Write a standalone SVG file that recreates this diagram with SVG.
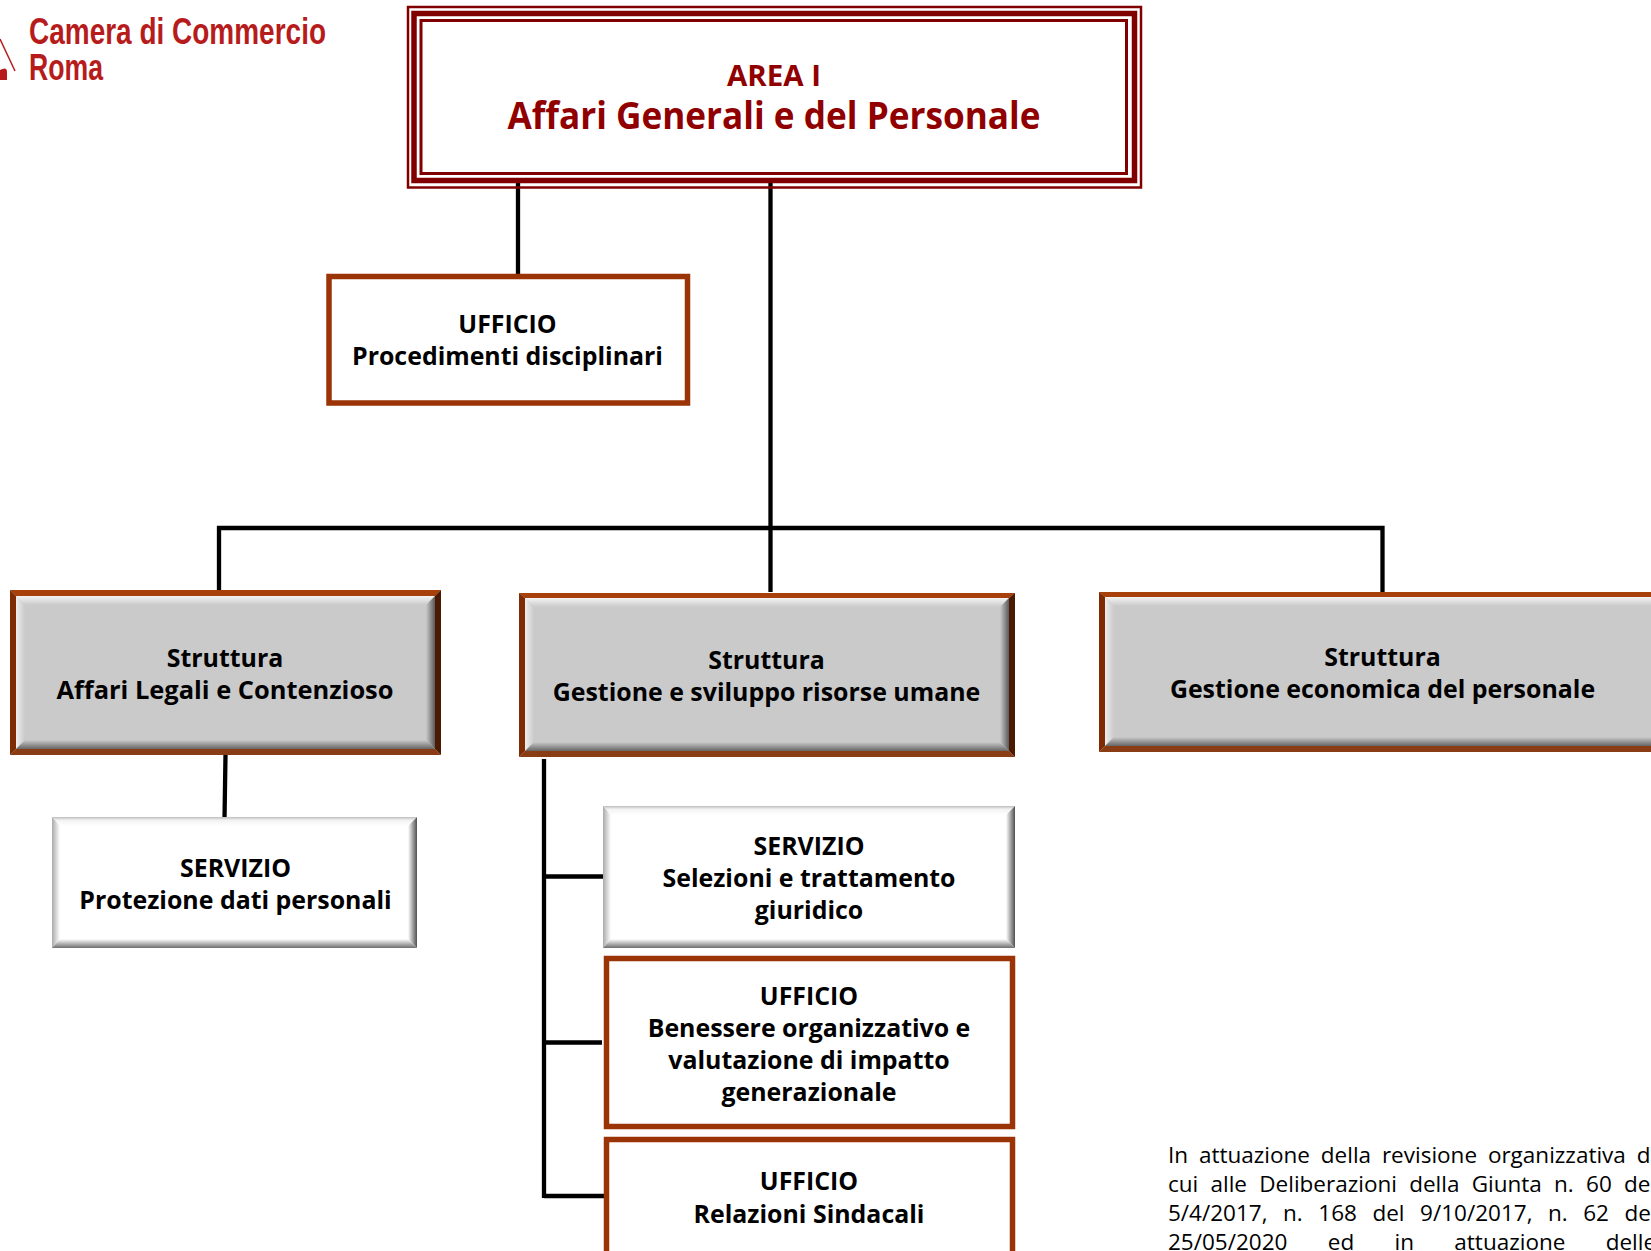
<svg xmlns="http://www.w3.org/2000/svg" width="1651" height="1251" viewBox="0 0 1651 1251">
<style>
.t{font-family:"Open Sans","Noto Sans","Liberation Sans",sans-serif;font-weight:700;font-size:24.9px;fill:#000;text-anchor:middle}
.a{font-family:"Open Sans","Noto Sans","Liberation Sans",sans-serif;font-weight:700;fill:#900000;text-anchor:middle}
.n{font-family:"Open Sans","Noto Sans","Liberation Sans",sans-serif;font-size:22.5px;fill:#000}
.l{font-family:"Liberation Sans Narrow","Liberation Sans",sans-serif;font-weight:700;font-size:37px;fill:#b71c1c}
.c{fill:none;stroke:#000;stroke-width:4.300}
.u{fill:#fff;stroke:#9a3306;stroke-width:5.500}
.r{fill:none;stroke:#800000}
</style>
<defs>
<linearGradient id="gt" x1="0" y1="0" x2="0" y2="1"><stop offset="0" stop-color="#f4f4f4"/><stop offset="1" stop-color="#cacaca"/></linearGradient>
<linearGradient id="gb" x1="0" y1="0" x2="0" y2="1"><stop offset="0" stop-color="#cacaca"/><stop offset="1" stop-color="#666"/></linearGradient>
<linearGradient id="gl" x1="0" y1="0" x2="1" y2="0"><stop offset="0" stop-color="#eeeeee"/><stop offset="1" stop-color="#cacaca"/></linearGradient>
<linearGradient id="gr" x1="0" y1="0" x2="1" y2="0"><stop offset="0" stop-color="#cacaca"/><stop offset="1" stop-color="#5a5a5a"/></linearGradient>
<linearGradient id="wt" x1="0" y1="0" x2="0" y2="1"><stop offset="0" stop-color="#bdbdbd"/><stop offset=".35" stop-color="#f2f2f2"/><stop offset="1" stop-color="#fff"/></linearGradient>
<linearGradient id="wb" x1="0" y1="0" x2="0" y2="1"><stop offset="0" stop-color="#fff"/><stop offset="1" stop-color="#6e6e6e"/></linearGradient>
<linearGradient id="wl" x1="0" y1="0" x2="1" y2="0"><stop offset="0" stop-color="#aaaaaa"/><stop offset="1" stop-color="#fff"/></linearGradient>
<linearGradient id="wr" x1="0" y1="0" x2="1" y2="0"><stop offset="0" stop-color="#fff"/><stop offset="1" stop-color="#505050"/></linearGradient>
</defs>
<rect width="1651" height="1251" fill="#fff"/>
<g id="logo">
<path d="M0 39L15 71" fill="none" stroke="#b71c1c" stroke-width="1.500"/>
<path d="M0 70Q7 66 7 72V80H0Z" fill="#b71c1c"/>
<text class="l" x="29" y="44" textLength="297" lengthAdjust="spacingAndGlyphs">Camera di Commercio</text>
<text class="l" x="29" y="80" textLength="74" lengthAdjust="spacingAndGlyphs">Roma</text>
</g>
<g id="connectors">
<path class="c" d="M518 180V275M770.500 180V592M219 592V528H1382.500V592M225.500 755L224.500 819M544 759V1198M544 876.500H606M544 1042.500H602M544 1196H604"/>
</g>
<g id="area">
<rect x="408" y="7" width="733" height="180.500" fill="#fff" class="r" stroke-width="2.500"/>
<rect x="414" y="13.500" width="720.500" height="167" class="r" stroke-width="5.500"/>
<rect x="421" y="20.500" width="705.500" height="153" class="r" stroke-width="3"/>
<text class="a" x="774" y="86" font-size="28.500" textLength="94" lengthAdjust="spacingAndGlyphs">AREA I</text>
<text class="a" x="774" y="129" font-size="37" textLength="533" lengthAdjust="spacingAndGlyphs">Affari Generali e del Personale</text>
</g>
<g id="ufficio-procedimenti">
<rect class="u" x="329" y="276.500" width="358.500" height="126.500"/>
<text class="t" x="507.500" y="332.500">UFFICIO</text>
<text class="t" x="507.500" y="364.500">Procedimenti disciplinari</text>
</g>
<g id="struttura-legali">
<rect x="10" y="590" width="431" height="165" fill="#cacaca"/>
<path fill="#a8400c" d="M10 590H441L435 596H16Z"/><path fill="#7f2c04" d="M10 590L16 596V749L10 755Z"/><path fill="#4a1a02" d="M441 590V755L435 749V596Z"/><path fill="#8a3c14" d="M10 755L16 749H435L441 755Z"/>
<path fill="url(#gt)" d="M16 596H435L426 605H25Z"/><path fill="url(#gl)" d="M16 596L25 605V740L16 749Z"/><path fill="url(#gr)" d="M435 596V749L426 740V605Z"/><path fill="url(#gb)" d="M25 740H426L435 749H16Z"/>
<text class="t" x="225" y="666.500">Struttura</text>
<text class="t" x="225" y="698.500" textLength="337" lengthAdjust="spacingAndGlyphs">Affari Legali e Contenzioso</text>
</g>
<g id="servizio-protezione">
<rect x="52" y="817" width="365" height="131" fill="#fff"/>
<path fill="url(#wt)" d="M52 817H417L408 826H60Z"/><path fill="url(#wl)" d="M52 817L60 826V939L52 948Z"/><path fill="url(#wr)" d="M417 817V948L408 939V826Z"/><path fill="url(#wb)" d="M60 939H408L417 948H52Z"/>
<text class="t" x="235.500" y="876.500">SERVIZIO</text>
<text class="t" x="235.500" y="908.500">Protezione dati personali</text>
</g>
<g id="struttura-gestione">
<rect x="519" y="593" width="496" height="164" fill="#cacaca"/>
<path fill="#a8400c" d="M519 593H1015L1009 598H525Z"/><path fill="#7f2c04" d="M519 593L525 598V751L519 757Z"/><path fill="#4a1a02" d="M1015 593V757L1009 751V598Z"/><path fill="#8a3c14" d="M519 757L525 751H1009L1015 757Z"/>
<path fill="url(#gt)" d="M525 598H1009L1000 607H534Z"/><path fill="url(#gl)" d="M525 598L534 607V742L525 751Z"/><path fill="url(#gr)" d="M1009 598V751L1000 742V607Z"/><path fill="url(#gb)" d="M534 742H1000L1009 751H525Z"/>
<text class="t" x="766.500" y="668.500">Struttura</text>
<text class="t" x="766.500" y="700.500">Gestione e sviluppo risorse umane</text>
</g>
<g id="struttura-economica">
<rect x="1099" y="592" width="552" height="160" fill="#cacaca"/>
<path fill="#a8400c" d="M1099 592H1651V597H1105Z"/><path fill="#7f2c04" d="M1099 592L1105 597V746L1099 752Z"/><path fill="#8a3c14" d="M1099 752L1105 746H1651V752Z"/>
<path fill="url(#gt)" d="M1105 597H1651V606H1114Z"/><path fill="url(#gl)" d="M1105 597L1114 606V737L1105 746Z"/><path fill="url(#gb)" d="M1114 737H1651V746H1105Z"/>
<text class="t" x="1382.500" y="665.500">Struttura</text>
<text class="t" x="1382.500" y="697.500">Gestione economica del personale</text>
</g>
<g id="servizio-selezioni">
<rect x="603" y="806" width="412" height="142" fill="#fff"/>
<path fill="url(#wt)" d="M603 806H1015L1006 815H611Z"/><path fill="url(#wl)" d="M603 806L611 815V939L603 948Z"/><path fill="url(#wr)" d="M1015 806V948L1006 939V815Z"/><path fill="url(#wb)" d="M611 939H1006L1015 948H603Z"/>
<text class="t" x="809" y="854.500">SERVIZIO</text>
<text class="t" x="809" y="886.500">Selezioni e trattamento</text>
<text class="t" x="809" y="918.500">giuridico</text>
</g>
<g id="ufficio-benessere">
<rect class="u" x="606.500" y="958.500" width="406" height="168"/>
<text class="t" x="809" y="1004.500">UFFICIO</text>
<text class="t" x="809" y="1036.500">Benessere organizzativo e</text>
<text class="t" x="809" y="1068.500">valutazione di impatto</text>
<text class="t" x="809" y="1100.500">generazionale</text>
</g>
<g id="ufficio-relazioni">
<rect class="u" x="606.500" y="1139.500" width="406" height="130"/>
<text class="t" x="809" y="1189.500">UFFICIO</text>
<text class="t" x="809" y="1222.500">Relazioni Sindacali</text>
</g>
<g id="nota">
<text class="n" x="1168" y="1163" word-spacing="5">In attuazione della revisione organizzativa d</text>
<text class="n" x="1168" y="1192" word-spacing="6.400">cui alle Deliberazioni della Giunta n. 60 de</text>
<text class="n" x="1168" y="1221" word-spacing="9.700">5/4/2017, n. 168 del 9/10/2017, n. 62 de</text>
<text class="n" x="1168" y="1250" word-spacing="34.500">25/05/2020 ed in attuazione delle</text>
</g>
</svg>
